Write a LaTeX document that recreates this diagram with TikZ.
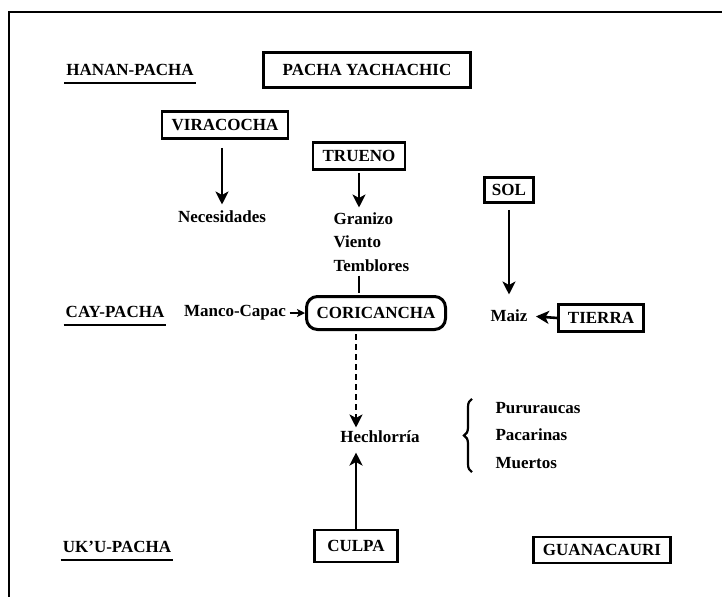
\documentclass[tikz,border=0pt]{standalone}
\usepackage{fontspec}
\setmainfont{Liberation Serif}
\usetikzlibrary{arrows.meta,decorations.pathreplacing}

\tikzset{
  word/.style={font=\fontsize{17}{20}\selectfont\bfseries},
  realm/.style={word, inner sep=2pt},
  godbox/.style={word, draw, line width=2.6pt, inner xsep=9.5pt, minimum height=27pt},
  temple/.style={godbox, rounded corners=11pt, line width=3pt, minimum height=33pt, inner xsep=10pt},
  underl/.style={line width=2.4pt},
  flow/.style={line width=2.6pt, -{Stealth[length=13pt,width=13pt,inset=3.5pt]}},
  smallflow/.style={line width=1.6pt, -{Stealth[length=8pt,width=8pt,inset=2pt]}},
  curly/.style={decorate, decoration={brace, amplitude=8pt}, line width=2.2pt},
}

\begin{document}
\begin{tikzpicture}[x=1pt,y=-1pt]
\useasboundingbox[fill=white] (0,0) rectangle (722,597);
\draw[line width=1.2pt] (722,12) -- (9,12) -- (9,597);

\node[realm] (hanan) at (130,70) {HANAN-PACHA};
\draw[underl] ([yshift=-5pt]hanan.south west) -- ([yshift=-5pt]hanan.south east);
\node[godbox, inner xsep=19pt, minimum height=35pt] (pacha) at (367,70) {PACHA YACHACHIC};

\node[godbox] (viracocha) at (225,125) {VIRACOCHA};
\node[godbox] (trueno) at (359,156) {TRUENO};
\node[godbox, inner xsep=7.5pt, minimum height=25pt] (sol) at (509,190) {SOL};

\node[word] (necesidades) at (222,217) {Necesidades};
\node[word, anchor=west] (granizo) at (330,219) {Granizo};
\node[word, anchor=west] (viento) at (330,242) {Viento};
\node[word, anchor=west] (temblores) at (330,266) {Temblores};

\node[realm] (cay) at (115,312) {CAY-PACHA};
\draw[underl] ([yshift=-5pt]cay.south west) -- ([yshift=-5pt]cay.south east);
\node[word] (manco) at (235,313) {Manco-Capac};
\node[temple] (coricancha) at (376,313) {CORICANCHA};
\node[word] (maiz) at (509,316) {Maiz};
\node[godbox] (tierra) at (601,318) {TIERRA};

\node[word] (hech) at (380,437) {Hechlorría};
\node[word, anchor=west] (pururaucas) at (492,408) {Pururaucas};
\node[word, anchor=west] (pacarinas) at (492,435) {Pacarinas};
\node[word, anchor=west] (muertos) at (492,463) {Muertos};

\node[realm] (uku) at (117,547) {UK'U-PACHA};
\draw[underl] ([yshift=-5pt]uku.south west) -- ([yshift=-5pt]uku.south east);
\node[godbox, inner xsep=13pt, minimum height=32pt] (culpa) at (356,546) {CULPA};
\node[godbox, minimum height=26pt] (guanacauri) at (602,550) {GUANACAURI};

\draw[flow, shorten <=8pt, shorten >=3pt] (viracocha.south -| necesidades) -- (necesidades.north);
\draw[flow, shorten <=2pt, shorten >=2pt] (trueno.south) -- (trueno.south |- granizo.north);
\draw[line width=2.6pt, shorten >=2pt] (trueno.south |- temblores.south) -- (trueno.south |- coricancha.north);
\draw[smallflow] (manco.east) -- (coricancha.west);
\draw[flow, shorten <=6pt, shorten >=12pt] (sol.south) -- (sol.south |- maiz.north);
\draw[flow, shorten >=5pt] (tierra.west) -- (maiz.east);
\draw[flow, dash pattern=on 6pt off 4pt, shorten <=3pt] (coricancha.south -| culpa) -- (hech.north -| culpa);
\draw[flow, shorten >=6pt] (culpa.north) -- (culpa.north |- hech.south);
\draw[curly] ([xshift=-20pt]muertos.south west) -- ([xshift=-20pt]pururaucas.north west);
\end{tikzpicture}
\end{document}
